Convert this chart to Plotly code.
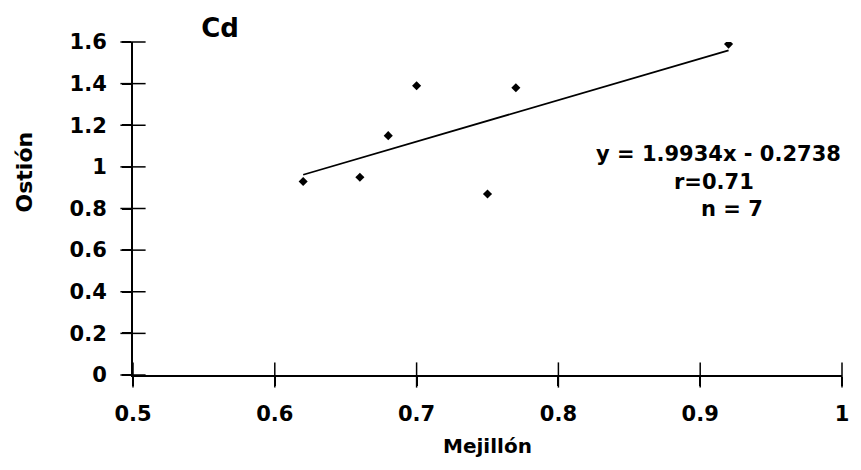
import plotly.graph_objects as go

# Data
mejillon = [0.62, 0.66, 0.68, 0.70, 0.75, 0.77, 0.92]
ostion = [0.93, 0.95, 1.15, 1.39, 0.87, 1.38, 1.59]
slope = 1.9934
intercept = -0.2738
r_value = 0.71
n_value = 7

x_ticks = [0.5, 0.6, 0.7, 0.8, 0.9, 1.0]
x_ticktext = ["0.5", "0.6", "0.7", "0.8", "0.9", "1"]
y_ticks = [0, 0.2, 0.4, 0.6, 0.8, 1.0, 1.2, 1.4, 1.6]
y_ticktext = ["0", "0.2", "0.4", "0.6", "0.8", "1", "1.2", "1.4", "1.6"]

FONT = "DejaVu Sans"
X_MIN, X_MAX = x_ticks[0], x_ticks[-1]
Y_MIN, Y_MAX = y_ticks[0], y_ticks[-1]
fit_x = [min(mejillon), max(mejillon)]
fit_y = [slope * v + intercept for v in fit_x]

fig = go.Figure()
fig.add_trace(go.Scatter(x=fit_x, y=fit_y, mode="lines",
                         line=dict(color="black", width=1.8), showlegend=False,
                         hoverinfo="skip"))
fig.add_trace(go.Scatter(x=mejillon, y=ostion, mode="markers",
                         marker=dict(color="black", size=7, symbol="diamond"),
                         showlegend=False))
# crossing tick marks (centred on the axis lines), built from the tick arrays
fig.add_trace(go.Scatter(x=[X_MIN] * len(y_ticks), y=y_ticks, mode="markers",
                         cliponaxis=False, hoverinfo="skip", showlegend=False,
                         marker=dict(symbol="line-ew-open", size=18, color="black",
                                     line=dict(color="black", width=1.5))))
fig.add_trace(go.Scatter(x=x_ticks, y=[Y_MIN] * len(x_ticks), mode="markers",
                         cliponaxis=False, hoverinfo="skip", showlegend=False,
                         marker=dict(symbol="line-ns-open", size=18, color="black",
                                     line=dict(color="black", width=1.5))))

axis_common = dict(showgrid=False, zeroline=False, color="black")
tick_font = dict(size=21, family=FONT, weight="bold")
fig.update_layout(
    width=861, height=470,
    margin=dict(l=133, r=16, t=42, b=95),
    paper_bgcolor="white", plot_bgcolor="white",
    font=dict(family=FONT, color="black", size=21, weight="bold"),
    title=dict(text="<b>Cd</b>", font=dict(size=26, family=FONT, weight="bold"),
               xref="container", yref="container",
               x=220 / 861, xanchor="center", y=1 - 28 / 470, yanchor="middle"),
    xaxis=dict(range=[X_MIN, X_MAX], tickvals=x_ticks, ticktext=x_ticktext,
               ticks="outside", ticklen=9, tickwidth=1.5, tickcolor="black",
               showline=True, linewidth=2, linecolor="black",
               ticklabelstandoff=10, tickfont=tick_font, **axis_common),
    yaxis=dict(range=[Y_MIN, Y_MAX], tickvals=y_ticks, ticktext=y_ticktext,
               ticks="outside", ticklen=9, tickwidth=1.5, tickcolor="black",
               showline=True, linewidth=2, linecolor="black",
               ticklabelstandoff=11, tickfont=tick_font, **axis_common),
)

fig.add_annotation(text="Mejillón", xref="paper", yref="paper",
                   x=0.5, y=(375 - 446) / 333, xanchor="center", yanchor="middle",
                   showarrow=False, font=dict(size=20, family=FONT, weight="bold"))
fig.add_annotation(text="Ostión", xref="paper", yref="paper", textangle=-90,
                   x=(24 - 133) / 712, y=(375 - 172) / 333,
                   xanchor="center", yanchor="middle",
                   showarrow=False, font=dict(size=22, family=FONT, weight="bold"))
fig.add_annotation(text=f"y = {slope:.4f}x - {abs(intercept):.4f}",
                   xref="paper", yref="paper", x=(846 - 133) / 712,
                   y=(375 - 154) / 333, xanchor="right", yanchor="middle",
                   showarrow=False, font=dict(size=21, family=FONT, weight="bold"))
fig.add_annotation(text=f"r={r_value:.2f}", xref="paper", yref="paper",
                   x=(716 - 133) / 712, y=(375 - 182) / 333,
                   xanchor="center", yanchor="middle",
                   showarrow=False, font=dict(size=21, family=FONT, weight="bold"))
fig.add_annotation(text=f"n = {n_value}", xref="paper", yref="paper",
                   x=(735 - 133) / 712, y=(375 - 209) / 333,
                   xanchor="center", yanchor="middle",
                   showarrow=False, font=dict(size=21, family=FONT, weight="bold"))

fig.write_html("out.html")
